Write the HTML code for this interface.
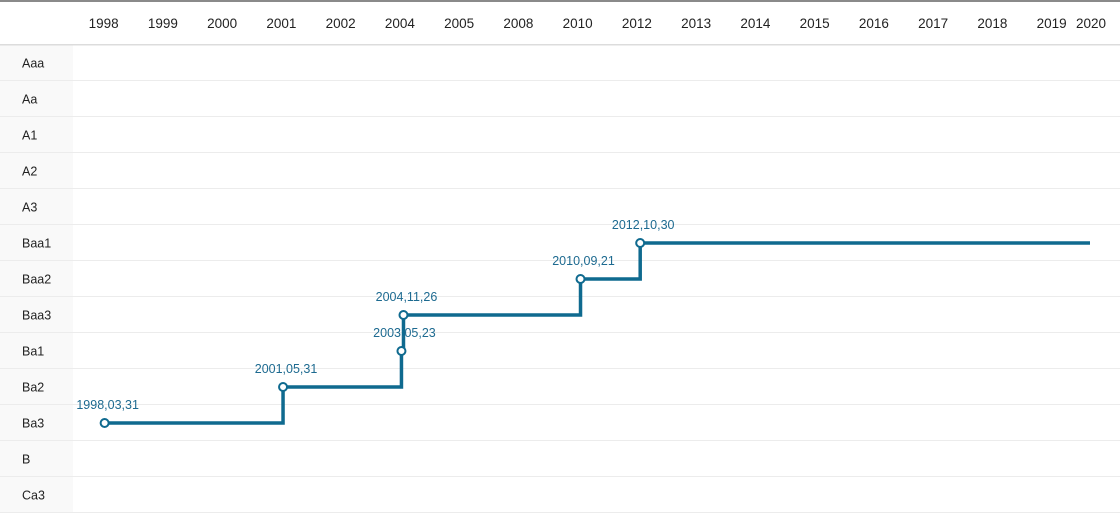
<!DOCTYPE html>
<html><head><meta charset="utf-8"><style>
body{margin:0;width:1120px;height:513px;overflow:hidden;background:#fff;font-family:"Liberation Sans",sans-serif}
svg{display:block}
</style></head><body>
<svg id="chart" width="1120" height="513" xmlns="http://www.w3.org/2000/svg"></svg>
<script>
const years=["1998","1999","2000","2001","2002","2004","2005","2008","2010","2012","2013","2014","2015","2016","2017","2018","2019","2020"];
const ratings=["Aaa","Aa","A1","A2","A3","Baa1","Baa2","Baa3","Ba1","Ba2","Ba3","B","Ca3"];
const pointDates=["1998.03.31","2001.05.31","2003.05.23","2004.11.26","2010.09.21","2012.10.30"];
const pointRatings=["Ba3","Ba2","Ba1","Baa3","Baa2","Baa1"];
const endYear="2020";
const NS="http://www.w3.org/2000/svg";
const svgEl=document.getElementById('chart');
const leftX=74,colW=59.25,topY=45,rowH=36;
function mk(t,a){const e=document.createElementNS(NS,t);for(const k in a)e.setAttribute(k,a[k]);svgEl.appendChild(e);return e;}
function yearX(y){let i=years.indexOf(y);if(i<0){i=years.findIndex(v=>+v>+y);if(i<0)i=years.length-1;}return Math.min(leftX+colW*(i+0.5),1091);}
function xScale(d){const p=d.split('.');const frac=((+p[1]-1)+(+p[2])/31)/12;return yearX(p[0])+frac*4;}
function yScale(r){return topY+rowH*(ratings.indexOf(r)+0.5);}
const lb=mk('rect',{x:0,y:topY,width:leftX-1,height:513-topY,fill:'#f9f9f9'});


const tb=mk('rect',{x:0,y:0,width:1120,height:2,fill:'#8a8a8a'});


const hb=mk('rect',{x:0,y:topY-1,width:1120,height:1.5,fill:'#dcdcdc'});


years.forEach((y)=>{const t=mk('text',{x:yearX(y),y:28,'text-anchor':'middle','font-size':13.5,fill:'#222'});t.textContent=y;

});
ratings.forEach((r,i)=>{const yb=topY+rowH*(i+1);
const l=mk('rect',{x:0,y:yb-1,width:1120,height:1,fill:'#ececec'});


const t=mk('text',{x:22,y:yScale(r)+4.5,'font-size':12.5,fill:'#222'});t.textContent=r;

});
let d='';pointDates.forEach((pd,i)=>{const x=xScale(pd),y=yScale(pointRatings[i]);
if(i===0)d+='M'+x+' '+y;else{d+=' H'+x+' V'+y;}});
d+=' H'+(yearX(endYear)-1);
const path=mk('path',{d:d,fill:'none',stroke:'#0f6a8f','stroke-width':3.5});


pointDates.forEach((pd,i)=>{const x=xScale(pd),y=yScale(pointRatings[i]);
const c=mk('circle',{cx:x,cy:y,r:4,fill:'#fff',stroke:'#0f6a8f','stroke-width':2});


const t=mk('text',{x:x+3,y:y-14,'text-anchor':'middle','font-size':12.5,fill:'#1d6a90'});t.textContent=pd.replace(/\./g,',');

});
</script>
</body></html>
